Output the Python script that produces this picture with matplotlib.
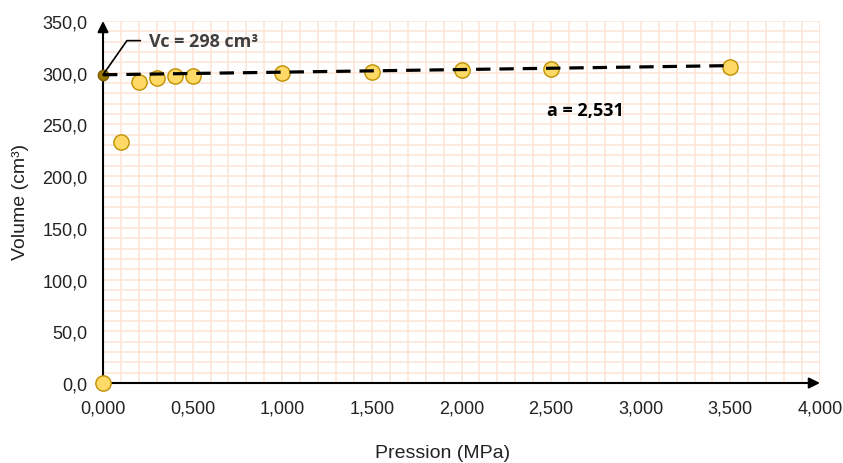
import matplotlib
matplotlib.use("Agg")
import matplotlib.pyplot as plt
import numpy as np
from matplotlib.ticker import MultipleLocator, FuncFormatter

# Measured pressure / volume pairs
pression = [0.0, 0.1, 0.2, 0.3, 0.4, 0.5, 1.0, 1.5, 2.0, 2.5, 3.5]
volume = [0.0, 233, 291, 295, 297, 297, 300, 301, 303, 304, 306]

# Linear fit: V = a * P + Vc
vc = 298
a = 2.531
fit_range = [0.0, 3.5]

plt.rcParams['font.family'] = ['Liberation Sans', 'DejaVu Sans']

fig = plt.figure(figsize=(8.43, 4.64), dpi=100)
ax = fig.add_axes([0.1222, 0.1724, 0.8505, 0.7802])

ax.set_xlim(0, 4)
ax.set_ylim(0, 350)

ax.xaxis.set_major_locator(MultipleLocator(0.5))
ax.yaxis.set_major_locator(MultipleLocator(50))
ax.xaxis.set_minor_locator(MultipleLocator(0.1))
ax.yaxis.set_minor_locator(MultipleLocator(10))
ax.xaxis.set_major_formatter(FuncFormatter(lambda v, p: f"{v:.3f}".replace('.', ',')))
ax.yaxis.set_major_formatter(FuncFormatter(lambda v, p: f"{v:.1f}".replace('.', ',')))

ax.grid(which='both', color='#FCE4D6', linewidth=1.1, zorder=0)
ax.set_axisbelow(True)

for s in ['top', 'right', 'left', 'bottom']:
    ax.spines[s].set_visible(False)

ax.tick_params(which='both', length=0)
ax.tick_params(axis='both', labelsize=13, colors='#222222')
ax.tick_params(axis='y', pad=11)
ax.tick_params(axis='x', pad=12)

# Axes with arrow heads
arrow_kw = dict(arrowstyle='-|>', color='black', lw=1.5, mutation_scale=16,
                shrinkA=0, shrinkB=0)
ax.annotate('', xy=(1.0, 0), xytext=(0, 0), xycoords='axes fraction',
            arrowprops=arrow_kw, annotation_clip=False, zorder=3)
ax.annotate('', xy=(0, 1.0), xytext=(0, 0), xycoords='axes fraction',
            arrowprops=arrow_kw, annotation_clip=False, zorder=3)

# Data points
ax.plot(pression, volume, linestyle='none', marker='o', markersize=11,
        markerfacecolor='#FFD966', markeredgecolor='#BF9000',
        markeredgewidth=1.0, zorder=4, clip_on=False)

# Intercept point
ax.plot([0], [vc], linestyle='none', marker='o', markersize=7.5,
        markerfacecolor='#9C7400', markeredgecolor='#7F6000', zorder=5,
        clip_on=False)

# Fit line
xf = np.array(fit_range)
ax.plot(xf, a * xf + vc, color='black', linewidth=2.3, linestyle=(0, (4.5, 2.8)),
        zorder=6, solid_capstyle='butt', clip_on=False)

# Leader line and label for the intercept
ax.annotate(f'Vc = {vc} cm\u00b3', xy=(0, vc), xytext=(0.255, 331),
            fontsize=13, fontweight='bold', color='#404040',
            va='center', ha='left', family=['Open Sans', 'DejaVu Sans'],
            arrowprops=dict(arrowstyle='-', color='black', lw=1.2,
                            connectionstyle='angle,angleA=0,angleB=55,rad=0',
                            shrinkA=4, shrinkB=0), zorder=7)

ax.text(2.69, 264, f"a = {a:.3f}".replace('.', ','), fontsize=13,
        fontweight='bold', color='black', ha='center', va='center',
        family=['Open Sans', 'DejaVu Sans'])

fig.text(0.525, 0.022, 'Pression (MPa)', fontsize=14, ha='center',
         va='center', color='#222222')
fig.text(0.024, 0.565, 'Volume (cm\u00b3)', fontsize=14, ha='center',
         va='center', rotation=90, color='#222222')

fig.savefig('out.png', dpi=100)
